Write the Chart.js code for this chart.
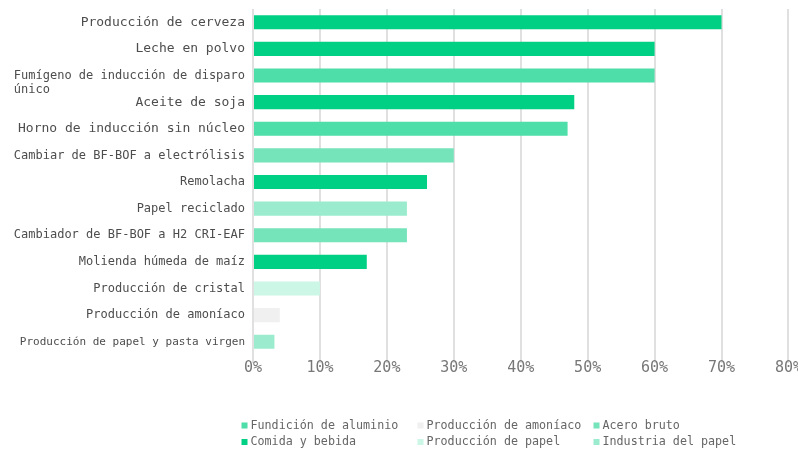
<!DOCTYPE html>
<html>
<head>
<meta charset="utf-8">
<script src="https://cdn.jsdelivr.net/npm/chart.js@4.4.1/dist/chart.umd.min.js"></script>
<style>
  html, body { margin: 0; padding: 0; background: #fff; }
  #wrap { width: 798px; height: 452px; }
</style>
</head>
<body>
<div id="wrap"><canvas id="sectorChart"></canvas></div>
<script>
// ---- data ----
const fumigenoLine = 'Fumígeno de inducción de disparo';
const categories = [
    'Producción de cerveza',
    'Leche en polvo',
    ['', fumigenoLine, 'único'.padEnd(fumigenoLine.length)], // 2nd line sits under the 1st
    'Aceite de soja',
    'Horno de inducción sin núcleo',
    'Cambiar de BF-BOF a electrólisis',
    'Remolacha',
    'Papel reciclado',
    'Cambiador de BF-BOF a H2 CRI-EAF',
    'Molienda húmeda de maíz',
    'Producción de cristal',
    'Producción de amoníaco',
    'Producción de papel y pasta virgen'
];
const values = [70, 60, 60, 48, 47, 30, 26, 23, 23, 17, 10, 4, 3.2];
const sectors = [
    'Comida y bebida', 'Comida y bebida', 'Fundición de aluminio', 'Comida y bebida',
    'Fundición de aluminio', 'Acero bruto', 'Comida y bebida', 'Industria del papel',
    'Acero bruto', 'Comida y bebida', 'Producción de papel', 'Producción de amoníaco',
    'Industria del papel'
];
const legendGroups = [
    'Fundición de aluminio', 'Producción de amoníaco', 'Acero bruto',
    'Comida y bebida', 'Producción de papel', 'Industria del papel'
];
const xTickLabels = ['0%', '10%', '20%', '30%', '40%', '50%', '60%', '70%', '80%'];

// ---- styles ----
const groupColors = {
    'Fundición de aluminio': '#4ddea9',
    'Producción de amoníaco': '#f0f0f0',
    'Acero bruto': '#75e4bb',
    'Comida y bebida': '#00d084',
    'Producción de papel': '#ccf6e6',
    'Industria del papel': '#9becce'
};
const labelFontSizes = [13, 13, 12, 13, 13, 12, 12, 12, 12, 12, 12, 12, 11];
const MONO = '"DejaVu Sans Mono", "Liberation Mono", monospace';

const datasets = legendGroups.map(g => ({
    label: g,
    data: values.map((v, i) => sectors[i] === g ? v : null),
    backgroundColor: groupColors[g],
    borderWidth: 0,
    categoryPercentage: 1,
    barPercentage: 0.53
}));

// Legend drawn on the canvas in 3 fixed columns
const columnLegend = {
    id: 'columnLegend',
    afterDraw(chart) {
        const ctx = chart.ctx;
        const left = 241.5, colW = 176, top = 425.5, rowH = 16.5;
        ctx.save();
        ctx.font = '11.7px ' + MONO;
        ctx.textBaseline = 'middle';
        ctx.textAlign = 'left';
        chart.data.datasets.forEach((ds, i) => {
            const x = left + (i % 3) * colW;
            const y = top + Math.floor(i / 3) * rowH;
            ctx.fillStyle = ds.backgroundColor;
            ctx.fillRect(x, y - 3, 6, 6);
            ctx.fillStyle = '#666';
            ctx.fillText(ds.label, x + 9, y);
        });
        ctx.restore();
    }
};

const ctx = document.getElementById('sectorChart').getContext('2d');
const sectorChart = new Chart(ctx, {
    type: 'bar',
    plugins: [columnLegend],
    data: { labels: categories, datasets: datasets },
    options: {
        indexAxis: 'y',
        responsive: true,
        maintainAspectRatio: false,
        animation: false,
        layout: { padding: { top: 9, bottom: 79, right: 0 } },
        plugins: {
            legend: { display: false },
            tooltip: { enabled: false }
        },
        scales: {
            x: {
                stacked: true,
                min: 0,
                max: 80,
                ticks: {
                    stepSize: 10,
                    padding: -4,
                    color: '#777',
                    font: { family: MONO, size: 15 },
                    callback: (v, i) => xTickLabels[i]
                },
                border: { display: false },
                grid: { color: '#e0e0e0', lineWidth: 2, tickLength: 8 }
            },
            y: {
                stacked: true,
                afterFit: s => { s.width = 253; },
                ticks: {
                    autoSkip: false,
                    padding: 0,
                    color: '#4d4d4d',
                    font: c => ({ family: MONO, size: labelFontSizes[c.index] || 12 })
                },
                border: { display: false },
                grid: { display: false }
            }
        }
    }
});
</script>
</body>
</html>
